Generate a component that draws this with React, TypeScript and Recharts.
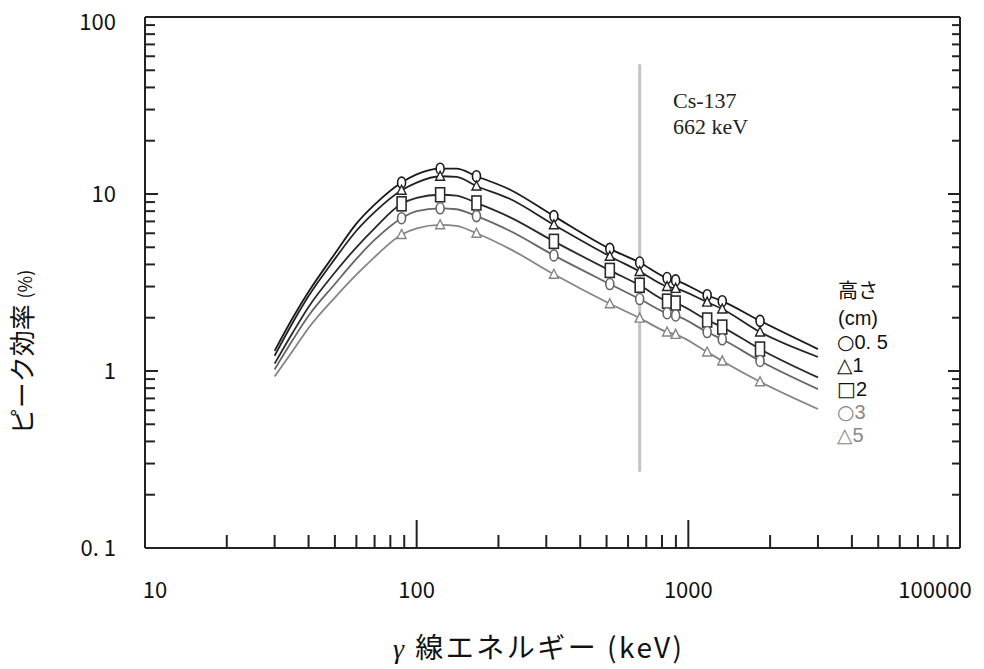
import React from 'react';
import { LineChart, Line, XAxis, YAxis, ReferenceLine } from 'recharts';

// γ-ray energy (keV) at which the curves are sampled
const energies = [30, 35, 40, 50, 60, 70, 88, 100, 122, 140, 166, 220, 320, 514, 662, 835, 898, 1173, 1333, 1836, 3000];
// energies with measured points (markers)
const measured = [88, 122, 166, 320, 514, 662, 835, 898, 1173, 1333, 1836];

// peak efficiency (%) per source height
const h05 = [1.3, 2.0, 2.8, 4.6, 6.8, 8.7, 11.6, 12.9, 13.9, 13.9, 12.6, 10.6, 7.5, 4.9, 4.1, 3.35, 3.25, 2.68, 2.48, 1.92, 1.33];
const h1 = [1.22, 1.88, 2.65, 4.3, 6.2, 7.9, 10.5, 11.6, 12.6, 12.5, 11.1, 9.4, 6.7, 4.45, 3.65, 3.0, 2.93, 2.45, 2.24, 1.66, 1.2];
const h2 = [1.1, 1.65, 2.3, 3.6, 5.0, 6.4, 8.8, 9.5, 9.9, 9.8, 8.9, 7.4, 5.4, 3.7, 3.05, 2.48, 2.42, 1.94, 1.77, 1.33, 0.92];
const h3 = [1.02, 1.5, 2.05, 3.1, 4.3, 5.5, 7.3, 8.0, 8.3, 8.2, 7.5, 6.2, 4.5, 3.1, 2.55, 2.12, 2.06, 1.66, 1.51, 1.14, 0.79];
const h5 = [0.93, 1.3, 1.75, 2.6, 3.5, 4.4, 5.9, 6.4, 6.7, 6.6, 6.0, 4.9, 3.52, 2.4, 1.99, 1.66, 1.61, 1.28, 1.14, 0.87, 0.61];

const xTicks = [10, 20, 30, 40, 50, 60, 70, 80, 90, 100, 200, 300, 400, 500, 600, 700, 800, 900, 1000, 2000, 3000, 4000, 5000, 6000, 7000, 8000, 9000, 10000];
const xTickLabels: Record<number, string> = { 10: '10', 100: '100', 1000: '1000', 10000: '100000' };
const yTicks = [0.1, 0.2, 0.3, 0.4, 0.5, 0.6, 0.7, 0.8, 0.9, 1, 2, 3, 4, 5, 6, 7, 8, 9, 10, 20, 30, 40, 50, 60, 70, 80, 90, 100];
const yTickLabels: Record<number, string> = { 0.1: '0. 1', 1: '1', 10: '10', 100: '100' };

const csLine = { energy: 662, yFrom: 0.27, yTo: 54 };
const csNote = ['Cs-137', '662 keV'];

const data = energies.map((e, i) => ({
  e,
  h05: h05[i],
  h1: h1[i],
  h2: h2[i],
  h3: h3[i],
  h5: h5[i],
  m: measured.includes(e),
}));

const isMajor = (v: number) => Math.abs(Math.log10(v) - Math.round(Math.log10(v))) < 1e-9;
const TICK = '#222';
const FONT = '"Noto Sans CJK JP", "Noto Sans", sans-serif';
const LEGEND_FONT = '"Liberation Sans", "DejaVu Sans", sans-serif';
const SYM_FONT = '"DejaVu Sans", sans-serif';

const BottomTick = (p: any) => {
  const v = p.payload.value;
  const maj = isMajor(v);
  const x = p.x;
  const y = p.y;
  let dx = 0;
  if (v === 10) dx = 10;
  if (v === 10000) dx = -25;
  return (
    <g>
      <line x1={x} x2={x} y1={y} y2={y - (maj ? 28 : 13)} stroke={TICK} strokeWidth={2} />
      {maj && (
        <text x={x + dx} y={y + 50} textAnchor="middle" fontSize={22} fontFamily={FONT} fill="#111">
          {xTickLabels[v]}
        </text>
      )}
    </g>
  );
};

const TopTick = (p: any) => {
  const v = p.payload.value;
  const maj = isMajor(v);
  return <line x1={p.x} x2={p.x} y1={p.y} y2={p.y + (maj ? 30 : 11)} stroke={TICK} strokeWidth={2} />;
};

const LeftTick = (p: any) => {
  const v = p.payload.value;
  const maj = isMajor(v);
  const y = p.y;
  return (
    <g>
      <line x1={p.x} x2={p.x + (maj ? 13 : 10)} y1={y} y2={y} stroke={TICK} strokeWidth={2} />
      {maj && (
        <text x={116} y={v === 100 ? y + 13 : y + 8} textAnchor="end" fontSize={22} fontFamily={FONT} fill="#111">
          {yTickLabels[v]}
        </text>
      )}
    </g>
  );
};

const RightTick = (p: any) => {
  const v = p.payload.value;
  const maj = isMajor(v);
  return <line x1={p.x} x2={p.x - (maj ? 12 : 8)} y1={p.y} y2={p.y} stroke={TICK} strokeWidth={2} />;
};

const makeDot = (shape: string, color: string) => (props: any) => {
  const { cx, cy, payload, index } = props;
  if (!payload || !payload.m || cx == null || cy == null) return <g key={`d${index}`} />;
  if (shape === 'circle') {
    return <ellipse key={`d${index}`} cx={cx} cy={cy} rx={4} ry={5.5} fill="#fff" stroke={color} strokeWidth={1.6} />;
  }
  if (shape === 'square') {
    return <rect key={`d${index}`} x={cx - 4.5} y={cy - 7} width={9} height={14} fill="#fff" stroke={color} strokeWidth={1.6} />;
  }
  return (
    <polygon
      key={`d${index}`}
      points={`${cx},${cy - 5} ${cx - 4.5},${cy + 4} ${cx + 4.5},${cy + 4}`}
      fill="#fff"
      stroke={color}
      strokeWidth={1.4}
    />
  );
};

const series = [
  { key: 'h05', color: '#1a1a1a', shape: 'circle' },
  { key: 'h1', color: '#222', shape: 'triangle' },
  { key: 'h2', color: '#2a2a2a', shape: 'square' },
  { key: 'h3', color: '#666', shape: 'circle' },
  { key: 'h5', color: '#858585', shape: 'triangle' },
];

const legendTitle = ['高さ', '(cm)'];
const legendRows = [
  { sym: '○', label: '0. 5', color: '#111' },
  { sym: '△', label: '1', color: '#111' },
  { sym: '□', label: '2', color: '#111' },
  { sym: '○', label: '3', color: '#888' },
  { sym: '△', label: '5', color: '#888' },
];

export default function App() {
  return (
    <div style={{ position: 'absolute', left: 0, top: 0, width: 984, height: 669, background: '#fff' }}>
      <LineChart width={984} height={669} data={data} margin={{ top: 0, right: 0, bottom: 0, left: 0 }}>
        <XAxis
          xAxisId="b"
          dataKey="e"
          type="number"
          scale="log"
          domain={[10, 10000]}
          allowDataOverflow
          ticks={xTicks}
          interval={0}
          tick={BottomTick}
          tickLine={false}
          tickSize={0}
          tickMargin={0}
          height={121}
          axisLine={{ stroke: TICK, strokeWidth: 2 }}
        />
        <XAxis
          xAxisId="t"
          orientation="top"
          type="number"
          scale="log"
          domain={[10, 10000]}
          allowDataOverflow
          ticks={xTicks}
          interval={0}
          tick={TopTick}
          tickLine={false}
          tickSize={0}
          tickMargin={0}
          height={17}
          axisLine={{ stroke: TICK, strokeWidth: 2 }}
        />
        <YAxis
          yAxisId="l"
          type="number"
          scale="log"
          domain={[0.1, 100]}
          allowDataOverflow
          ticks={yTicks}
          interval={0}
          tick={LeftTick}
          tickLine={false}
          tickSize={0}
          tickMargin={0}
          width={145}
          axisLine={{ stroke: TICK, strokeWidth: 2 }}
        />
        <YAxis
          yAxisId="r"
          orientation="right"
          type="number"
          scale="log"
          domain={[0.1, 100]}
          allowDataOverflow
          ticks={yTicks}
          interval={0}
          tick={RightTick}
          tickLine={false}
          tickSize={0}
          tickMargin={0}
          width={24}
          axisLine={{ stroke: TICK, strokeWidth: 2 }}
        />
        <ReferenceLine
          xAxisId="b"
          yAxisId="l"
          segment={[
            { x: csLine.energy, y: csLine.yFrom },
            { x: csLine.energy, y: csLine.yTo },
          ]}
          stroke="#c4c4c4"
          strokeWidth={3}
          ifOverflow="visible"
        />
        {series.map((s) => (
          <Line
            key={s.key}
            xAxisId="b"
            yAxisId="l"
            dataKey={s.key}
            type="monotone"
            stroke={s.color}
            strokeWidth={1.8}
            dot={makeDot(s.shape, s.color)}
            activeDot={false}
            isAnimationActive={false}
          />
        ))}
      </LineChart>
      <svg width={984} height={669} style={{ position: 'absolute', left: 0, top: 0, pointerEvents: 'none' }}>
        {csNote.map((t, i) => (
          <text
            key={i}
            x={673}
            y={108 + i * 26}
            fontSize={22}
            fontFamily='"Liberation Serif", "DejaVu Serif", serif'
            fill="#222"
          >
            {t}
          </text>
        ))}
        {legendTitle.map((t, i) => (
          <text
            key={`t${i}`}
            x={838}
            y={i === 0 ? 298 : 325.4}
            fontSize={20}
            fontFamily={i === 0 ? FONT : LEGEND_FONT}
            fill="#111"
          >
            {t}
          </text>
        ))}
        {legendRows.map((r, i) => (
          <text key={i} x={837} y={348.8 + i * 23.4} fontSize={20} fill={r.color}>
            <tspan fontFamily={SYM_FONT}>{r.sym}</tspan>
            <tspan fontFamily={LEGEND_FONT}>{r.label}</tspan>
          </text>
        ))}
        <text transform="translate(32,352) rotate(-90)" textAnchor="middle" fontSize={26} fontFamily={FONT} fill="#111">
          ピーク効率 <tspan fontSize={18}>(%)</tspan>
        </text>
        <text x={393} y={658} fontSize={28} fontFamily={FONT} fill="#111" letterSpacing={2.5}>
          <tspan fontFamily='"Liberation Serif", serif' fontStyle="italic">γ</tspan> 線エネルギー (keV)
        </text>
      </svg>
    </div>
  );
}
